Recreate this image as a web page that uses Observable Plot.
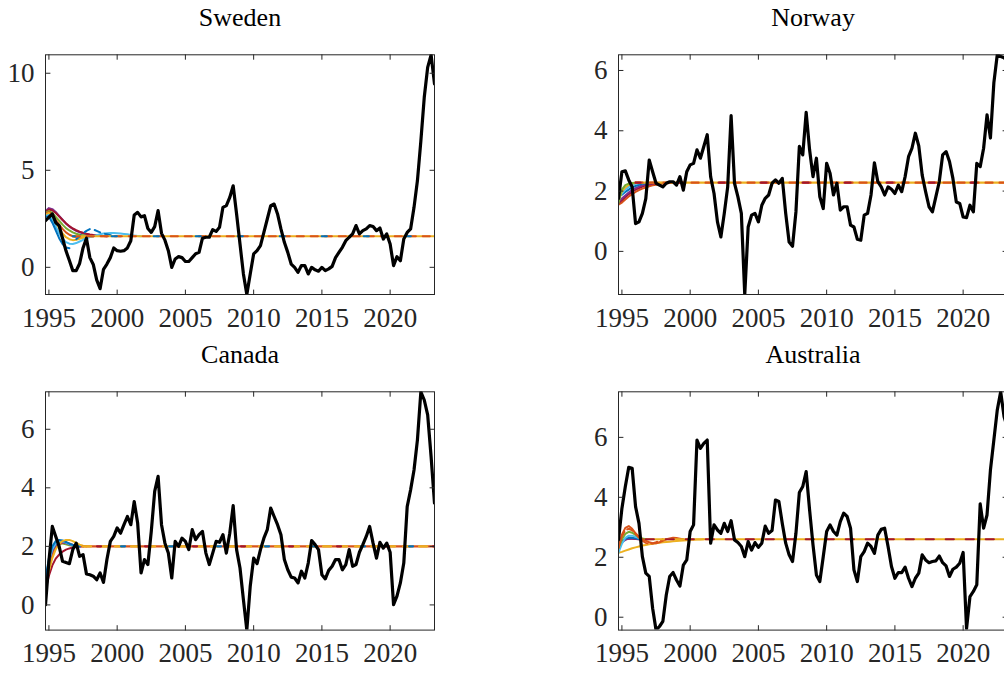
<!DOCTYPE html>
<html>
<head>
<meta charset="utf-8">
<script src="https://cdn.jsdelivr.net/npm/d3@7"></script>
<script src="https://cdn.jsdelivr.net/npm/@observablehq/plot@0.6"></script>
<style>
  html, body { margin: 0; padding: 0; background: #fff; }
  #fig { position: relative; width: 1004px; height: 673px; overflow: hidden; }
  #fig svg { position: absolute; overflow: visible; }
</style>
</head>
<body>
<div id="fig"></div>
<script>
// Quarterly inflation, first observation 1994Q4
const startYear = 1994.75;
const yearTicks = [1995, 2000, 2005, 2010, 2015, 2020];

const sweden = [2.4, 2.58, 2.75, 2.3, 2.15, 1.5, 0.85, 0.35, -0.17, -0.17,
  0.2, 1.0, 1.5, 0.5, 0.15, -0.65, -1.1, -0.1, 0.17, 0.5,
  1.0, 0.86, 0.83, 0.86, 1.0, 1.37, 2.7, 2.83, 2.6, 2.66,
  2.0, 1.8, 2.1, 2.92, 1.75, 1.4, 0.86, 0.0, 0.43, 0.55,
  0.5, 0.3, 0.3, 0.5, 0.7, 0.77, 1.5, 1.55, 1.55, 1.94,
  1.85, 2.06, 3.09, 3.18, 3.6, 4.2, 2.75, 1.2, -0.34, -1.4,
  -0.34, 0.69, 0.86, 1.12, 1.8, 2.49, 3.18, 3.26, 2.75, 1.98,
  1.29, 0.77, 0.17, 0.0, -0.26, 0.09, 0.09, -0.34, 0.0, -0.13,
  -0.2, 0.0, -0.17, -0.08, 0.05, 0.5, 0.77, 1.03, 1.37, 1.55,
  1.72, 2.15, 1.72, 1.89, 1.98, 2.15, 2.1, 1.89, 2.03, 1.46,
  1.72, 1.2, 0.09, 0.55, 0.34, 1.46, 1.8, 1.98, 3.09, 4.47,
  6.5, 8.76, 10.3, 10.95, 9.45];

const norway = [1.75, 2.64, 2.67, 2.37, 2.14, 0.92, 0.98, 1.26, 1.75, 3.03,
  2.64, 2.26, 2.2, 2.14, 2.26, 2.31, 2.31, 2.2, 2.48, 2.03,
  2.64, 2.87, 2.92, 3.37, 3.09, 3.48, 3.87, 2.48, 1.92, 0.98,
  0.48, 1.26, 2.14, 4.5, 2.26, 1.81, 1.26, -1.43, 0.81, 1.2,
  1.26, 0.98, 1.53, 1.76, 1.87, 2.26, 2.37, 2.26, 2.42, 1.26,
  0.31, 0.17, 1.31, 3.48, 3.2, 4.61, 3.37, 2.48, 3.09, 1.81,
  1.42, 2.92, 2.59, 1.87, 2.26, 1.37, 1.48, 1.48, 0.87, 0.81,
  0.4, 0.37, 1.2, 1.26, 1.87, 2.94, 2.31, 2.14, 1.87, 2.14,
  2.06, 1.92, 2.2, 1.98, 2.48, 3.14, 3.42, 3.92, 3.5, 2.53,
  1.98, 1.48, 1.31, 1.81, 2.31, 3.2, 3.31, 2.98, 2.42, 1.64,
  1.59, 1.14, 1.12, 1.53, 1.31, 2.92, 2.81, 3.42, 4.53, 3.76,
  5.59, 6.52, 6.46, 6.42, 6.3];

const canada = [0.0, 1.5, 2.68, 2.34, 2.0, 1.49, 1.45, 1.41, 1.89, 2.11,
  1.66, 1.72, 1.06, 1.03, 0.98, 0.86, 1.09, 0.77, 1.55, 2.17,
  2.34, 2.63, 2.45, 2.74, 3.02, 2.74, 3.53, 2.8, 1.09, 1.55,
  1.38, 2.51, 3.88, 4.39, 2.74, 2.11, 1.77, 0.92, 2.17, 2.0,
  2.28, 2.17, 1.89, 2.57, 2.23, 2.4, 2.51, 1.77, 1.38, 1.77,
  2.17, 2.14, 2.4, 1.77, 2.45, 3.39, 1.89, 1.26, 0.18, -0.86,
  0.64, 1.6, 1.41, 1.89, 2.28, 2.57, 3.31, 3.02, 2.74, 2.4,
  1.55, 1.2, 0.95, 0.92, 0.75, 1.15, 0.92, 1.43, 2.2, 2.06,
  1.89, 1.03, 0.89, 1.18, 1.32, 1.55, 1.55, 1.2, 1.38, 1.89,
  1.32, 1.38, 1.8, 2.06, 2.34, 2.68, 2.11, 1.6, 2.14, 1.94,
  2.11, 1.8, 0.01, 0.3, 0.75, 1.43, 3.36, 3.93, 4.61, 5.64,
  7.28, 7.0, 6.49, 5.07, 3.48];

const australia = [2.58, 3.63, 4.36, 5.0, 4.97, 3.69, 3.13, 2.02, 1.47, 1.36,
  0.3, -0.43, -0.31, -0.14, 0.74, 1.36, 1.49, 1.24, 1.04, 1.74,
  1.91, 2.86, 3.08, 5.91, 5.63, 5.8, 5.91, 2.47, 3.08, 2.91,
  2.8, 3.13, 2.86, 3.22, 2.58, 2.49, 2.36, 2.02, 2.52, 2.24,
  2.49, 2.33, 2.47, 3.04, 2.8, 2.89, 3.91, 3.86, 3.13, 2.47,
  2.08, 1.86, 2.8, 4.16, 4.36, 4.86, 3.58, 2.41, 1.41, 1.19,
  2.02, 2.86, 3.08, 2.86, 2.74, 3.19, 3.47, 3.36, 2.97, 1.58,
  1.19, 2.02, 2.19, 2.47, 2.36, 2.13, 2.74, 2.93, 2.97, 2.36,
  1.69, 1.3, 1.49, 1.49, 1.67, 1.3, 1.02, 1.3, 1.47, 2.08,
  1.91, 1.82, 1.86, 1.88, 2.04, 1.82, 1.71, 1.36, 1.6, 1.67,
  1.8, 2.16, -0.38, 0.69, 0.86, 1.08, 3.78, 2.97, 3.41, 4.91,
  5.91, 6.91, 7.52, 6.69, 6.3];

// Long-run means the model forecasts converge to
const swedenMean = 1.6;
const norwayMean = 2.28;
const canadaMean = 2.0;
const australiaMean = 2.6;

// Model forecast paths from 1994Q4 (quarterly)
const swedenPurple = [2.9, 3.05, 3.0, 2.85, 2.65, 2.45, 2.25, 2.1, 1.98, 1.88, 1.8, 1.74, 1.7, 1.67, 1.65, 1.63, 1.62, 1.61, 1.6];
const swedenDarkRed = [2.85, 2.98, 2.93, 2.8, 2.62, 2.44, 2.27, 2.12, 2.0, 1.91, 1.84, 1.78, 1.73, 1.69, 1.66, 1.64, 1.62, 1.61, 1.6];
const swedenGreen = [2.8, 2.9, 2.8, 2.6, 2.4, 2.2, 2.02, 1.9, 1.8, 1.73, 1.68, 1.65, 1.62, 1.61, 1.6];
const swedenOrange = [2.75, 2.85, 2.7, 2.45, 2.2, 1.98, 1.8, 1.68, 1.6, 1.55, 1.53, 1.54, 1.56, 1.58, 1.6];
const swedenYellow = [2.7, 2.8, 2.6, 2.3, 2.0, 1.75, 1.55, 1.45, 1.4, 1.42, 1.47, 1.52, 1.56, 1.59, 1.6];
const swedenLightBlue = [2.65, 2.7, 2.45, 2.1, 1.75, 1.48, 1.3, 1.22, 1.2, 1.25, 1.33, 1.42, 1.5, 1.56, 1.6, 1.65, 1.7, 1.74, 1.76, 1.77, 1.77, 1.76, 1.74, 1.72, 1.7, 1.67, 1.64, 1.62, 1.6];
const swedenBlue = [2.6, 2.6, 2.3, 1.9, 1.5, 1.2, 1.02, 0.98];
const swedenBlueLate = [1.45, 1.6, 1.75, 1.88, 1.97, 1.95, 1.88, 1.8, 1.74, 1.7, 1.66, 1.63, 1.61, 1.6];
const swedenBlueLateStart = 1997.0;

const norwayGreen = [1.6, 2.05, 2.2, 2.25, 2.27, 2.28];
const norwayYellow = [1.7, 1.98, 2.12, 2.2, 2.25, 2.27, 2.28];
const norwayLightBlue = [1.8, 1.92, 2.05, 2.14, 2.2, 2.24, 2.26, 2.28];
const norwayBlue = [1.85, 1.88, 1.97, 2.05, 2.12, 2.17, 2.21, 2.24, 2.26, 2.27, 2.28];
const norwayPurple = [1.65, 1.75, 1.85, 1.95, 2.03, 2.1, 2.15, 2.19, 2.22, 2.24, 2.26, 2.27, 2.28];
const norwayDarkRed = [1.6, 1.7, 1.8, 1.9, 1.98, 2.05, 2.1, 2.15, 2.19, 2.22, 2.24, 2.26, 2.27, 2.28];
const norwayOrange = [1.55, 1.62, 1.72, 1.82, 1.9, 1.97, 2.03, 2.08, 2.12, 2.16, 2.19, 2.21, 2.23, 2.25, 2.26, 2.27, 2.28];

const canadaBlue = [0.9, 1.6, 2.0, 2.18, 2.22, 2.2, 2.15, 2.09, 2.05, 2.02, 2.0];
const canadaLightBlue = [0.8, 1.5, 1.9, 2.1, 2.17, 2.17, 2.13, 2.08, 2.04, 2.01, 2.0];
const canadaPurple = [0.7, 1.45, 1.85, 2.05, 2.13, 2.14, 2.11, 2.07, 2.03, 2.01, 2.0];
const canadaOrange = [0.6, 1.3, 1.7, 1.95, 2.07, 2.12, 2.12, 2.1, 2.06, 2.03, 2.01, 2.0];
const canadaYellow = [0.55, 1.15, 1.6, 1.9, 2.08, 2.18, 2.22, 2.22, 2.18, 2.12, 2.06, 2.02, 2.0];
const canadaGreen = [0.65, 1.35, 1.8, 2.02, 2.1, 2.1, 2.07, 2.04, 2.02, 2.0];
const canadaDarkRed = [0.5, 1.0, 1.35, 1.58, 1.72, 1.82, 1.89, 1.93, 1.96, 1.98, 1.99, 2.0];

const australiaOrange = [2.3, 2.75, 2.98, 3.04, 2.95, 2.8, 2.68, 2.6, 2.55, 2.5, 2.47, 2.47, 2.5, 2.55, 2.6, 2.63, 2.65, 2.64, 2.62, 2.6];
const australiaOrange2 = [2.35, 2.7, 2.9, 2.95, 2.9, 2.78, 2.65, 2.55, 2.48, 2.45, 2.46, 2.5, 2.55, 2.6];
const australiaGreen = [2.3, 2.6, 2.78, 2.85, 2.82, 2.75, 2.68, 2.63, 2.6];
const australiaLightBlue = [2.15, 2.45, 2.65, 2.72, 2.72, 2.68, 2.64, 2.61, 2.6];
const australiaBlue = [2.25, 2.5, 2.62, 2.66, 2.65, 2.63, 2.61, 2.6];
const australiaDarkRed = [2.45, 2.55, 2.6, 2.62, 2.62, 2.61, 2.6];
const australiaPurple = [2.4, 2.5, 2.58, 2.62, 2.63, 2.62, 2.6];
const australiaYellow = [2.15, 2.18, 2.22, 2.26, 2.3, 2.33, 2.36, 2.39, 2.41, 2.43, 2.45, 2.47, 2.48, 2.5, 2.51, 2.52, 2.53, 2.54, 2.55, 2.56, 2.57, 2.58, 2.58, 2.59, 2.59, 2.6];

// MATLAB default line colours
const C = {
  blue: "#0072BD", orange: "#D95319", yellow: "#EDB120", purple: "#7E2F8E",
  green: "#77AC30", lightBlue: "#4DBEEE", darkRed: "#A2142F"
};

const axisColor = "#262626";
const fontFamily = "'Liberation Serif', 'Times New Roman', serif";
const tickFont = 27;
const titleFont = 26;
const frameW = 389;

const quarterly = (values, from = startYear) =>
  values.map((v, i) => ({year: from + i / 4, value: v}));

// inward tick stroke for the boxed axes
const tickShape = {draw(context, l) { context.moveTo(0, 0); context.lineTo(0, -l); }};

function panel({name, actual, mean, meanFrom, curves, meanLines, yTicks, frameLeft, frameTop, frameH}) {
  const xDomain = [startYear, startYear + (actual.length - 1) / 4];
  const yDomain = d3.extent(actual);
  const meanRow = [{year: meanFrom, value: mean}, {year: xDomain[1], value: mean}];
  const marginTop = 54.3, marginBottom = 48, marginLeft = 45, marginRight = 46;

  const marks = [];
  for (const c of curves) {
    marks.push(Plot.line(quarterly(c.values, c.from), {
      x: "year", y: "value", stroke: c.color, strokeWidth: 2,
      strokeDasharray: c.dash, clip: true
    }));
  }
  for (const m of meanLines) {
    marks.push(Plot.line(meanRow, {
      x: "year", y: "value", stroke: m.color, strokeWidth: 2.2,
      strokeDasharray: m.dash, strokeDashoffset: m.offset, clip: true
    }));
  }
  marks.push(Plot.line(quarterly(actual), {
    x: "year", y: "value", stroke: "#000", strokeWidth: 3.2, clip: true
  }));
  marks.push(Plot.frame({stroke: axisColor, strokeWidth: 1}));
  // ticks pointing into the box on all four sides
  const tickOpts = {length: 4.5, anchor: "start", shape: tickShape, stroke: axisColor, strokeWidth: 1};
  marks.push(Plot.vector(yTicks, {...tickOpts, x: () => xDomain[0], y: d => d, rotate: 90}));
  marks.push(Plot.vector(yTicks, {...tickOpts, x: () => xDomain[1], y: d => d, rotate: -90}));
  marks.push(Plot.vector(yearTicks, {...tickOpts, x: d => d, y: () => yDomain[0], rotate: 0}));
  marks.push(Plot.vector(yearTicks, {...tickOpts, x: d => d, y: () => yDomain[1], rotate: 180}));
  marks.push(Plot.axisY(yTicks, {
    tickSize: 0, tickPadding: 11, fontSize: tickFont, fill: axisColor, label: null
  }));
  marks.push(Plot.axisX(yearTicks, {
    tickSize: 0, tickPadding: 13, fontSize: tickFont, fill: axisColor, label: null,
    tickFormat: d => String(d)
  }));
  marks.push(Plot.text([name], {
    frameAnchor: "top", dy: -37, lineAnchor: "middle",
    fontSize: titleFont, fill: "#000"
  }));

  const svg = Plot.plot({
    width: marginLeft + frameW + marginRight,
    height: marginTop + frameH + marginBottom,
    marginTop, marginBottom, marginLeft, marginRight,
    x: {domain: xDomain},
    y: {domain: yDomain},
    style: {fontFamily, background: "transparent", overflow: "visible"},
    marks
  });
  svg.style.left = (frameLeft - marginLeft) + "px";
  svg.style.top = (frameTop - marginTop) + "px";
  document.getElementById("fig").appendChild(svg);
}

panel({
  name: "Sweden", actual: sweden, mean: swedenMean, meanFrom: 1996.75,
  yTicks: [0, 5, 10], frameLeft: 45, frameTop: 54.3, frameH: 239.7,
  curves: [
    {values: swedenPurple, color: C.purple},
    {values: swedenDarkRed, color: C.darkRed},
    {values: swedenGreen, color: C.green},
    {values: swedenOrange, color: C.orange},
    {values: swedenYellow, color: C.yellow},
    {values: swedenLightBlue, color: C.lightBlue},
    {values: swedenBlue, color: C.blue},
    {values: swedenBlueLate, color: C.blue, from: swedenBlueLateStart, dash: "6,5"}
  ],
  meanLines: [
    {color: C.yellow},
    {color: C.orange, dash: "7,7"},
    {color: C.blue, dash: "5,37", offset: 3}
  ]
});

panel({
  name: "Norway", actual: norway, mean: norwayMean, meanFrom: 1996.0,
  yTicks: [0, 2, 4, 6], frameLeft: 618.3, frameTop: 54.3, frameH: 239.7,
  curves: [
    {values: norwayOrange, color: C.orange},
    {values: norwayDarkRed, color: C.darkRed},
    {values: norwayPurple, color: C.purple},
    {values: norwayBlue, color: C.blue},
    {values: norwayLightBlue, color: C.lightBlue},
    {values: norwayYellow, color: C.yellow},
    {values: norwayGreen, color: C.green}
  ],
  meanLines: [
    {color: C.yellow},
    {color: C.orange, dash: "7,7"},
    {color: C.darkRed, dash: "6,36", offset: 1}
  ]
});

panel({
  name: "Canada", actual: canada, mean: canadaMean, meanFrom: 1997.5,
  yTicks: [0, 2, 4, 6], frameLeft: 45, frameTop: 391.7, frameH: 238.3,
  curves: [
    {values: canadaDarkRed, color: C.darkRed},
    {values: canadaGreen, color: C.green},
    {values: canadaOrange, color: C.orange},
    {values: canadaPurple, color: C.purple},
    {values: canadaLightBlue, color: C.lightBlue},
    {values: canadaBlue, color: C.blue},
    {values: canadaYellow, color: C.yellow}
  ],
  meanLines: [
    {color: C.orange},
    {color: C.yellow, dash: "8,8"},
    {color: C.blue, dash: "4,44", offset: 10},
    {color: C.darkRed, dash: "4,44", offset: 34}
  ]
});

panel({
  name: "Australia", actual: australia, mean: australiaMean, meanFrom: 1996.75,
  yTicks: [0, 2, 4, 6], frameLeft: 618.3, frameTop: 391.7, frameH: 238.3,
  curves: [
    {values: australiaYellow, color: C.yellow},
    {values: australiaDarkRed, color: C.darkRed},
    {values: australiaPurple, color: C.purple},
    {values: australiaBlue, color: C.blue},
    {values: australiaLightBlue, color: C.lightBlue},
    {values: australiaGreen, color: C.green},
    {values: australiaOrange2, color: C.orange, dash: "6,4"},
    {values: australiaOrange, color: C.orange}
  ],
  meanLines: [
    {color: C.yellow},
    {color: C.darkRed, dash: "8,12"}
  ]
});
</script>
</body>
</html>
